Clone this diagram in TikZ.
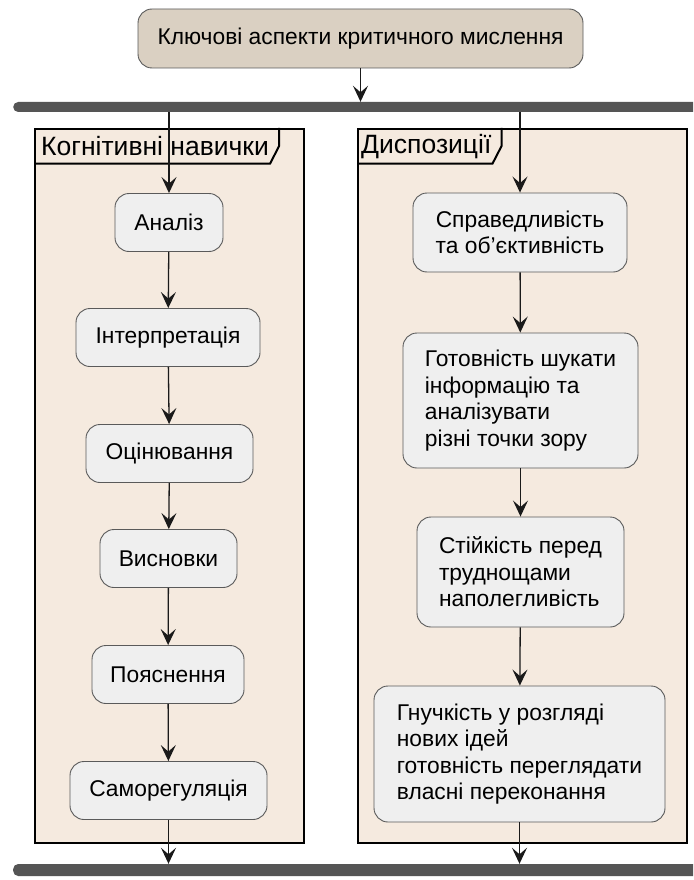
\documentclass[tikz,border=0pt]{standalone}
\usepackage{fontspec}
\setmainfont{Liberation Sans}
\usetikzlibrary{arrows.meta,calc}
\definecolor{lanefill}{HTML}{F5EADF}
\definecolor{topfill}{HTML}{DAD0C2}
\definecolor{boxfill}{HTML}{EFEFEF}
\definecolor{boxline}{HTML}{5A5A5A}
\definecolor{barcol}{HTML}{555555}
\definecolor{arrcol}{HTML}{1A1A1A}
\begin{document}
\begin{tikzpicture}[x=1pt,y=-1pt,
  box/.style={draw=boxline, fill=boxfill, rounded corners=14pt, line width=0.9pt,
    minimum height=58pt, inner sep=0pt, font=\fontsize{22.8}{26.5}\selectfont, align=center},
  rbox/.style={box, align=left},
  topbox/.style={box, fill=topfill, minimum width=445pt, minimum height=59pt},
  lanebox/.style={fill=lanefill, draw=black, line width=2pt},
  lanetitle/.style={anchor=west, inner sep=0pt, font=\fontsize{26.5}{30}\selectfont},
  bar/.style={fill=barcol, rounded corners=5pt, minimum height=10pt, minimum width=720pt, inner sep=0pt, anchor=west},
  arr/.style={draw=arrcol, line width=1.3pt, -{Stealth[length=16pt,width=15pt,inset=6.5pt]}}
]
\useasboundingbox (0,0) rectangle (693,880);
\clip (0,0) rectangle (693,880);
\fill[white] (0,0) rectangle (693,880);

% lanes
\node[lanebox, minimum width=269pt, minimum height=714pt, inner sep=0pt, anchor=north west] (lane1) at (34,128) {};
\node[lanebox, minimum width=329pt, minimum height=714pt, inner sep=0pt, anchor=north west] (lane2) at (357,128) {};
\node[lanetitle] (t1) at (41,146.5) {Когнітивні навички};
\node[lanetitle] (t2) at (361,146.5) {Диспозиції};
\coordinate (h1) at (34,163.5);
\coordinate (h2) at (357,163.5);
\coordinate (m) at (0,146);
\draw[line width=2pt] (h1) -- ([xshift=1pt]t1.east |- h1) -- ([xshift=10pt]t1.east |- m) -- ([xshift=10pt]t1.east |- lane1.north);
\draw[line width=2pt] (h2) -- ([xshift=1pt]t2.east |- h2) -- ([xshift=10pt]t2.east |- m) -- ([xshift=10pt]t2.east |- lane2.north);

% bars
\node[bar] (bar1) at (13,107) {};
\node[bar, minimum height=12pt] (bar2) at (13,870) {};

% top node
\node[topbox] (top) at (360.5,38.5) {Ключові аспекти критичного мислення};

% left column
\node[box, minimum width=108pt] (a1) at (169,222.5) {Аналіз};
\node[box, minimum width=184pt] (a2) at (168,337.5) {Інтерпретація};
\node[box, minimum width=167pt] (a3) at (169.5,453.5) {Оцінювання};
\node[box, minimum width=137pt] (a4) at (168.5,558.5) {Висновки};
\node[box, minimum width=152pt] (a5) at (168,674.5) {Пояснення};
\node[box, minimum width=197pt] (a6) at (168.5,790.5) {Саморегуляція};

% right column
\node[box, minimum width=214pt, minimum height=79pt] (b1) at (520,232.5) {Справедливість\\та об'єктивність};
\node[rbox, minimum width=235pt, minimum height=135pt] (b2) at (520.5,400.5) {Готовність шукати\\інформацію та\\аналізувати\\різні точки зору};
\node[rbox, minimum width=207pt, minimum height=110pt] (b3) at (520.5,572) {Стійкість перед\\труднощами\\наполегливість};
\node[rbox, minimum width=291pt, minimum height=136pt] (b4) at (519.5,754) {Гнучкість у розгляді\\нових ідей\\готовність переглядати\\власні переконання};

% connectors
\draw[arr] (top) -- (top |- bar1.north);
\draw[arr] (a1 |- bar1.south) -- (a1);
\draw[arr] (b1 |- bar1.south) -- (b1);
\draw[arr] (a1) -- (a2);
\draw[arr] (a2) -- (a3);
\draw[arr] (a3) -- (a4);
\draw[arr] (a4) -- (a5);
\draw[arr] (a5) -- (a6);
\draw[arr] (b1) -- (b2);
\draw[arr] (b2) -- (b3);
\draw[arr] (b3) -- (b4);
\draw[arr] (a6) -- (a6 |- bar2.north);
\draw[arr] (b4) -- (b4 |- bar2.north);
\end{tikzpicture}
\end{document}
